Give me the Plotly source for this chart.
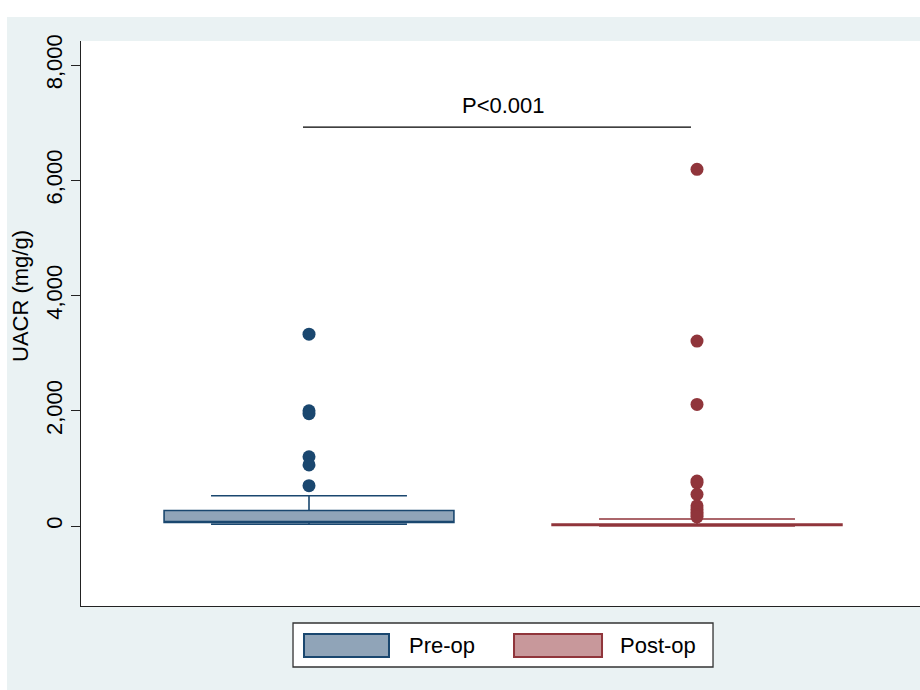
import plotly.graph_objects as go

# ---- data ----
groups = ["Pre-op", "Post-op"]
group_pos = [0, 1]
q1 = [60, 8]
median = [70, 15]
q3 = [270, 35]
lower_fence = [30, 3]
upper_fence = [526, 121]
pre_outliers = [3330, 2000, 1950, 1200, 1060, 700]
post_outliers = [6190, 3210, 2110, 780, 750, 550, 350, 290, 240, 190, 160]
y_ticks = [0, 2000, 4000, 6000, 8000]
y_tick_labels = ["0", "2,000", "4,000", "6,000", "8,000"]
p_text = "P<0.001"
y_title = "UACR (mg/g)"

line_colors = ["#1a476f", "#90353b"]
fill_colors = ["#90a4b8", "#c8989b"]
FONT = "Liberation Sans, Arial, sans-serif"
FS = 22

fig = go.Figure()
for i in range(2):
    fig.add_trace(go.Box(
        x=[group_pos[i]], q1=[q1[i]], median=[median[i]], q3=[q3[i]],
        lowerfence=[lower_fence[i]], upperfence=[upper_fence[i]],
        name=groups[i], width=0.747, whiskerwidth=0.676,
        fillcolor=fill_colors[i], line=dict(color=line_colors[i], width=1.6),
        boxpoints=False, showlegend=False, hoverinfo="skip"))

outs = [pre_outliers, post_outliers]
for i in range(2):
    fig.add_trace(go.Scatter(
        x=[group_pos[i]] * len(outs[i]), y=outs[i], mode="markers",
        marker=dict(color=line_colors[i], size=13, line=dict(width=0)),
        showlegend=False, hoverinfo="skip"))

# significance bar
fig.add_shape(type="line", xref="x", yref="y", x0=-0.0155, x1=0.9845,
              y0=6924, y1=6924, line=dict(color="black", width=1.2))
fig.add_annotation(x=0.5, y=7306, xref="x", yref="y", text=p_text,
                   showarrow=False, font=dict(family=FONT, size=FS, color="black"))

# background: white strips outside the gray graph region
fig.add_shape(type="rect", xref="paper", yref="paper", x0=-0.0965, x1=1.0,
              y0=1.0425, y1=1.0726, fillcolor="white", line_width=0, layer="below")
fig.add_shape(type="rect", xref="paper", yref="paper", x0=-0.0965, x1=-0.0882,
              y0=-0.1487, y1=1.0726, fillcolor="white", line_width=0, layer="below")

# manual legend
fig.add_shape(type="rect", xref="paper", yref="paper", x0=0.2527, x1=0.7533,
              y0=-0.108, y1=-0.0301, fillcolor="white",
              line=dict(color="#333333", width=1.3))
sym_x = [(0.2658, 0.3671), (0.5161, 0.6210)]
txt_x = [0.3886, 0.6401]
for i in range(2):
    fig.add_shape(type="rect", xref="paper", yref="paper", x0=sym_x[i][0], x1=sym_x[i][1],
                  y0=-0.0903, y1=-0.0496, fillcolor=fill_colors[i],
                  line=dict(color=line_colors[i], width=2))
    fig.add_annotation(x=txt_x[i], y=-0.0699, xref="paper", yref="paper", text=groups[i],
                       xanchor="left", yanchor="middle", showarrow=False,
                       font=dict(family=FONT, size=FS, color="black"))

# y axis title
fig.add_annotation(x=-0.0715, y=0.5487, xref="paper", yref="paper", text=y_title,
                   textangle=-90, showarrow=False, xanchor="center", yanchor="middle",
                   font=dict(family=FONT, size=FS, color="black"))

fig.update_layout(
    width=920, height=690,
    margin=dict(l=81, r=0, t=41, b=84),
    paper_bgcolor="#eaf2f3", plot_bgcolor="white",
    font=dict(family=FONT, size=FS, color="black"),
    showlegend=False,
    xaxis=dict(range=[-0.5876, 1.5747], showgrid=False, zeroline=False,
               showticklabels=False, ticks="", showline=True,
               linecolor="#222222", linewidth=1.3),
    yaxis=dict(range=[-1388, 8417], tickvals=y_ticks, ticktext=y_tick_labels,
               tickangle=-90, ticks="outside", ticklen=9, tickcolor="#222222",
               tickwidth=1.2, showgrid=False, zeroline=False, showline=True,
               linecolor="#222222", linewidth=1.3,
               tickfont=dict(family=FONT, size=FS, color="black")),
)

fig.write_html("out.html", config={"displayModeBar": False},
               post_script="document.body.style.margin='0';document.body.style.overflow='hidden';")
